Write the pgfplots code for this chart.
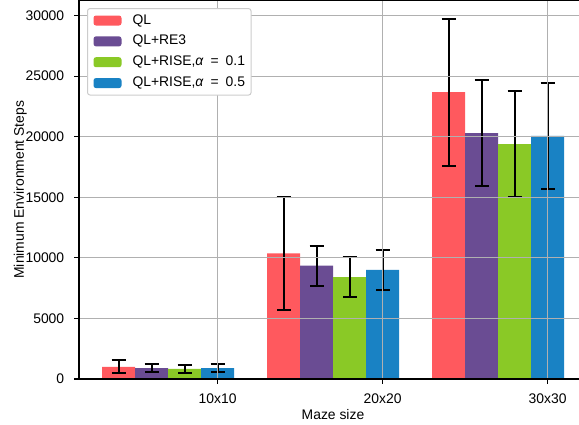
\documentclass[border=0pt]{standalone}
\usepackage{fontspec}
\setmainfont{Liberation Sans}
\usepackage{pgfplots}
\pgfplotsset{compat=1.18}
\definecolor{cred}{HTML}{FF595E}
\definecolor{cpur}{HTML}{6A4C93}
\definecolor{cgrn}{HTML}{8AC926}
\definecolor{cblu}{HTML}{1982C4}
\newcommand{\fs}{\fontsize{13.9}{16}\selectfont}
\newcommand{\eqs}{\hspace{0.5em}=\hspace{0.5em}}
\pgfplotsset{
  mybar/.style={ybar, bar width=0.2, bar shift=0pt, draw=none, fill=#1,
    error bars/.cd, y dir=both, y explicit,
    error bar style={line width=2pt, black},
    error mark options={rotate=90, mark size=7pt, line width=2pt, black}},
}
\begin{document}
\begin{tikzpicture}
\begin{axis}[
  at={(0,0)}, anchor=south west,
  scale only axis, width=500pt, height=378.5pt,
  xmin=-0.84, xmax=2.19, ymin=0, ymax=31250,
  axis y line*=left,
  xtick={0,1,2}, xticklabels={10x10,20x20,30x30},
  ytick={0,5000,...,30000},
  scaled y ticks=false,
  /pgf/number format/1000 sep={},
  /pgf/number format/assume math mode=true,
  xtick pos=left, ytick pos=left, tick align=outside,
  major tick length=4.9pt,
  tick style={black, line width=1.1pt},
  grid=major, major grid style={color=black!31, line width=1.1pt},
  axis line style={black, line width=1.1pt},
  axis on top,
  tick label style={font=\fs},
  yticklabel style={anchor=east, inner sep=0pt, xshift=-9.7pt},
  xticklabel style={anchor=north, inner sep=0pt, yshift=-9.7pt},
  xlabel={Maze size}, ylabel={Minimum Environment Steps},
  label style={font=\fs},
  xlabel style={at={(axis description cs:0.508,-0.1057)}, anchor=base, inner sep=0pt},
  ylabel style={at={(axis description cs:-0.11,0.5)}, anchor=base, inner sep=0pt},
  legend style={at={(axis description cs:0.016,0.980)}, anchor=north west,
    draw=black!20, line width=1pt, rounded corners=2.5pt, fill=white, font=\fs,
    inner xsep=6pt, inner ysep=5pt, row sep=6.95pt,
    nodes={inner sep=0pt, text height=10.5pt, text depth=3.4pt},
    /tikz/every odd column/.append style={column sep=11pt}},
  legend cell align=left,
  legend image code/.code={\fill[#1] (0pt,-5pt) rectangle (28pt,5pt);},
]
\addplot[mybar=cred] coordinates {(-0.6,1000) +- (0,530) (0.4,10380) +- (0,4680) (1.4,23680) +- (0,6080)};
\addlegendentry{QL}
\addplot[mybar=cpur] coordinates {(-0.4,900) +- (0,300) (0.6,9350) +- (0,1650) (1.6,20300) +- (0,4370)};
\addlegendentry{QL+RE3}
\addplot[mybar=cgrn] coordinates {(-0.2,830) +- (0,305) (0.8,8420) +- (0,1640) (1.8,19400) +- (0,4375)};
\addlegendentry{QL+RISE,\textit{α}\eqs 0.1}
\addplot[mybar=cblu] coordinates {(0,900) +- (0,300) (1,9000) +- (0,1650) (2,20070) +- (0,4365)};
\addlegendentry{QL+RISE,\textit{α}\eqs 0.5}
\end{axis}
\pgfresetboundingbox
\path[use as bounding box] (-79pt,-46pt) rectangle (500pt,379pt);
\end{tikzpicture}
\end{document}
